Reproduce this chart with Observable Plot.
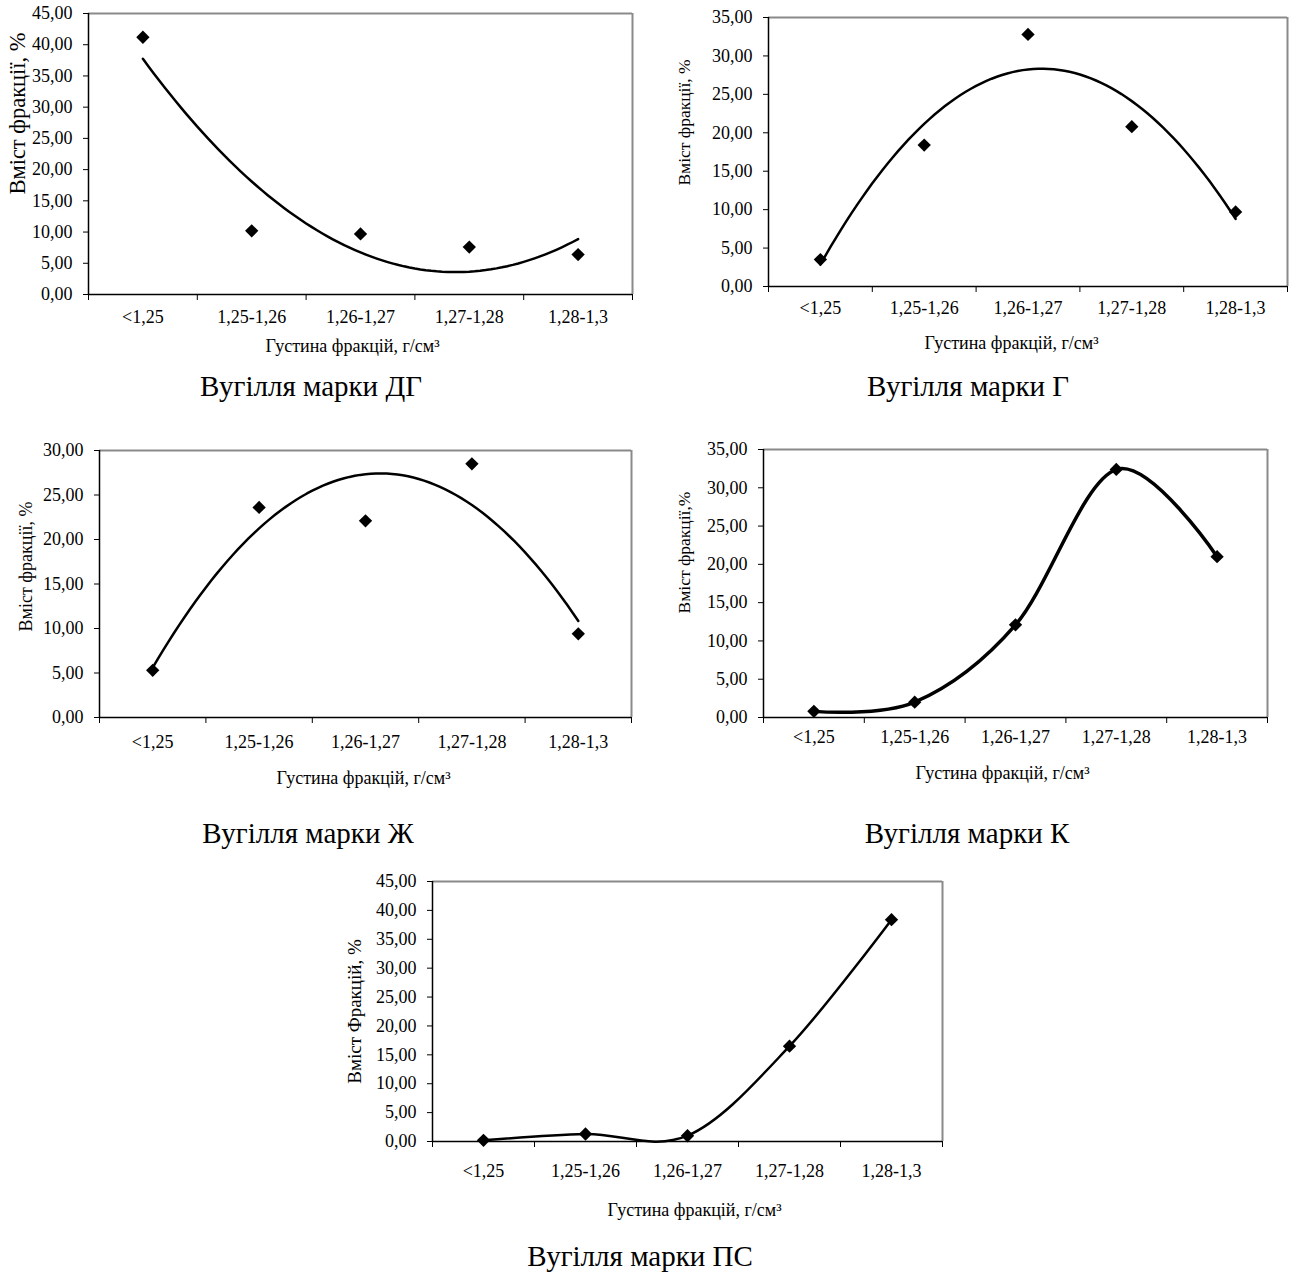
<!DOCTYPE html>
<html>
<head>
<meta charset="utf-8">
<script src="https://cdn.jsdelivr.net/npm/d3@7"></script>
<script src="https://cdn.jsdelivr.net/npm/@observablehq/plot@0.6"></script>
<style>
  html, body { margin: 0; padding: 0; background: #fff; }
  #page { position: relative; width: 1290px; height: 1274px; background: #fff; overflow: hidden;
          font-family: "Liberation Serif", "Times New Roman", serif; color: #000; }
  .panel { position: absolute; }
  .sub { position: absolute; transform: translate(-50%, -50%); white-space: nowrap;
         font-family: "Liberation Serif", "Times New Roman", serif; font-size: 29px; color: #000; }
</style>
</head>
<body>
<div id="page"></div>
<script>
// ---------- data ----------
const categories = ["<1,25", "1,25-1,26", "1,26-1,27", "1,27-1,28", "1,28-1,3"];
const dgValues = [41.2, 10.2, 9.7, 7.6, 6.4];      // Вугілля марки ДГ
const gValues  = [3.5, 18.4, 32.8, 20.8, 9.7];     // Вугілля марки Г
const zhValues = [5.3, 23.6, 22.1, 28.5, 9.4];     // Вугілля марки Ж
const kValues  = [0.8, 2.0, 12.1, 32.4, 21.0];     // Вугілля марки К
const psValues = [0.2, 1.3, 1.0, 16.5, 38.4];      // Вугілля марки ПС
const yTicks45 = [0, 5, 10, 15, 20, 25, 30, 35, 40, 45];
const yTicks35 = [0, 5, 10, 15, 20, 25, 30, 35];
const yTicks30 = [0, 5, 10, 15, 20, 25, 30];
const xTitle = "Густина фракцій, г/см³";
const subtitles = ["Вугілля марки ДГ", "Вугілля марки Г", "Вугілля марки Ж", "Вугілля марки К", "Вугілля марки ПС"];

// ---------- helpers ----------
const fmt = d => d.toFixed(2).replace(".", ",");
const points = vals => vals.map((v, i) => ({x: i + 1, y: v}));

// 2nd-order polynomial least-squares trend line (as in the original spreadsheet)
function quadTrend(vals) {
  const n = vals.length;
  let s = [0, 0, 0, 0, 0], t = [0, 0, 0];
  vals.forEach((y, i) => {
    const x = i + 1;
    for (let k = 0; k < 5; k++) s[k] += Math.pow(x, k);
    for (let k = 0; k < 3; k++) t[k] += y * Math.pow(x, k);
  });
  const A = [[s[0], s[1], s[2], t[0]], [s[1], s[2], s[3], t[1]], [s[2], s[3], s[4], t[2]]];
  for (let c = 0; c < 3; c++) {
    for (let r = c + 1; r < 3; r++) {
      const f = A[r][c] / A[c][c];
      for (let k = c; k < 4; k++) A[r][k] -= f * A[c][k];
    }
  }
  const coef = [0, 0, 0];
  for (let r = 2; r >= 0; r--) {
    let v = A[r][3];
    for (let k = r + 1; k < 3; k++) v -= A[r][k] * coef[k];
    coef[r] = v / A[r][r];
  }
  return d3.range(1, n + 0.0001, 0.05).map(x => ({x, y: coef[0] + coef[1] * x + coef[2] * x * x}));
}

const page = document.getElementById("page");

function panel(cfg) {
  const {values, yMax, yTicks, box, frame, trend, lineWidth, catDy, yTitle, yTitleSize, yTitlePos, xTitlePos, r} = cfg;
  const mL = frame.L - box.left, mR = box.left + box.width - frame.R;
  const mT = frame.T - box.top, mB = box.top + box.height - frame.B;
  const pts = points(values);
  const edges = categories.map((_, i) => i + 0.5).concat([categories.length + 0.5]);
  const at = (ax, ay) => ({frameAnchor: "top-left", dx: ax - frame.L, dy: ay - frame.T});
  const marks = [
    Plot.ruleY([yMax], {stroke: "#8a8a8a", strokeWidth: 2}),
    Plot.ruleX([categories.length + 0.5], {stroke: "#8a8a8a", strokeWidth: 2}),
    Plot.ruleX([0.5], {stroke: "#000", strokeWidth: 1.5}),
    Plot.ruleY([0], {stroke: "#000", strokeWidth: 1.5}),
    Plot.axisY({ticks: yTicks, tickFormat: fmt, tickSize: 5, tickPadding: 11, fontSize: 18, label: null}),
    Plot.axisX({ticks: edges, tickFormat: () => "", tickSize: 6, label: null}),
    Plot.text(categories, {x: (d, i) => i + 1, text: d => d, frameAnchor: "bottom", dy: catDy, fontSize: 18, lineAnchor: "middle"}),
    Plot.text([xTitle], {text: d => d, ...at(xTitlePos[0], xTitlePos[1]), fontSize: 18, lineAnchor: "middle", textAnchor: "middle"}),
    Plot.text([yTitle], {text: d => d, ...at(yTitlePos[0], yTitlePos[1]), rotate: -90, fontSize: yTitleSize, lineAnchor: "middle", textAnchor: "middle"})
  ];
  if (trend) {
    marks.push(Plot.line(quadTrend(values), {x: "x", y: "y", stroke: "#000", strokeWidth: lineWidth}));
  } else {
    marks.push(Plot.line(pts, {x: "x", y: "y", stroke: "#000", strokeWidth: lineWidth, curve: "cardinal"}));
  }
  marks.push(Plot.dot(pts, {x: "x", y: "y", symbol: "diamond2", r, fill: "#000", stroke: "none"}));

  const svg = Plot.plot({
    width: box.width, height: box.height,
    marginLeft: mL, marginRight: mR, marginTop: mT, marginBottom: mB,
    x: {type: "linear", domain: [0.5, categories.length + 0.5]},
    y: {type: "linear", domain: [0, yMax]},
    style: {fontFamily: "\"Liberation Serif\", \"Times New Roman\", serif", fontSize: "18px", color: "#000", background: "transparent", overflow: "visible"},
    marks
  });
  const wrap = document.createElement("div");
  wrap.className = "panel";
  wrap.style.left = box.left + "px";
  wrap.style.top = box.top + "px";
  wrap.appendChild(svg);
  page.appendChild(wrap);
}

function subtitle(text, x, y) {
  const d = document.createElement("div");
  d.className = "sub";
  d.textContent = text;
  d.style.left = x + "px";
  d.style.top = y + "px";
  page.appendChild(d);
}

// ---------- panels ----------
panel({values: dgValues, yMax: 45, yTicks: yTicks45, trend: true, lineWidth: 2.5, r: 6,
  box: {left: 0, top: 0, width: 640, height: 370}, frame: {L: 88, R: 632, T: 13, B: 294},
  catDy: 23, yTitle: "Вміст фракції, %", yTitleSize: 22.5, yTitlePos: [17, 113], xTitlePos: [352, 346]});
panel({values: gValues, yMax: 35, yTicks: yTicks35, trend: true, lineWidth: 2.5, r: 6,
  box: {left: 640, top: 0, width: 650, height: 370}, frame: {L: 768, R: 1287, T: 17, B: 286},
  catDy: 22, yTitle: "Вміст фракції, %", yTitleSize: 17.5, yTitlePos: [684, 122], xTitlePos: [1011, 343]});
panel({values: zhValues, yMax: 30, yTicks: yTicks30, trend: true, lineWidth: 2.5, r: 6,
  box: {left: 0, top: 430, width: 640, height: 380}, frame: {L: 99, R: 631, T: 450, B: 717},
  catDy: 25, yTitle: "Вміст фракції, %", yTitleSize: 18, yTitlePos: [26, 566], xTitlePos: [363, 778]});
panel({values: kValues, yMax: 35, yTicks: yTicks35, trend: false, lineWidth: 3.5, r: 6,
  box: {left: 640, top: 430, width: 650, height: 380}, frame: {L: 763, R: 1267, T: 449, B: 717},
  catDy: 20, yTitle: "Вміст фракції,%", yTitleSize: 17.5, yTitlePos: [684, 552], xTitlePos: [1002, 773]});
panel({values: psValues, yMax: 45, yTicks: yTicks45, trend: false, lineWidth: 2.5, r: 6,
  box: {left: 340, top: 860, width: 620, height: 400}, frame: {L: 432, R: 942, T: 881, B: 1141},
  catDy: 30, yTitle: "Вміст Фракцій, %", yTitleSize: 19, yTitlePos: [354, 1011], xTitlePos: [694, 1210]});

subtitle(subtitles[0], 311, 386);
subtitle(subtitles[1], 968, 386);
subtitle(subtitles[2], 308, 833);
subtitle(subtitles[3], 967, 833);
subtitle(subtitles[4], 640, 1256);
</script>
</body>
</html>
